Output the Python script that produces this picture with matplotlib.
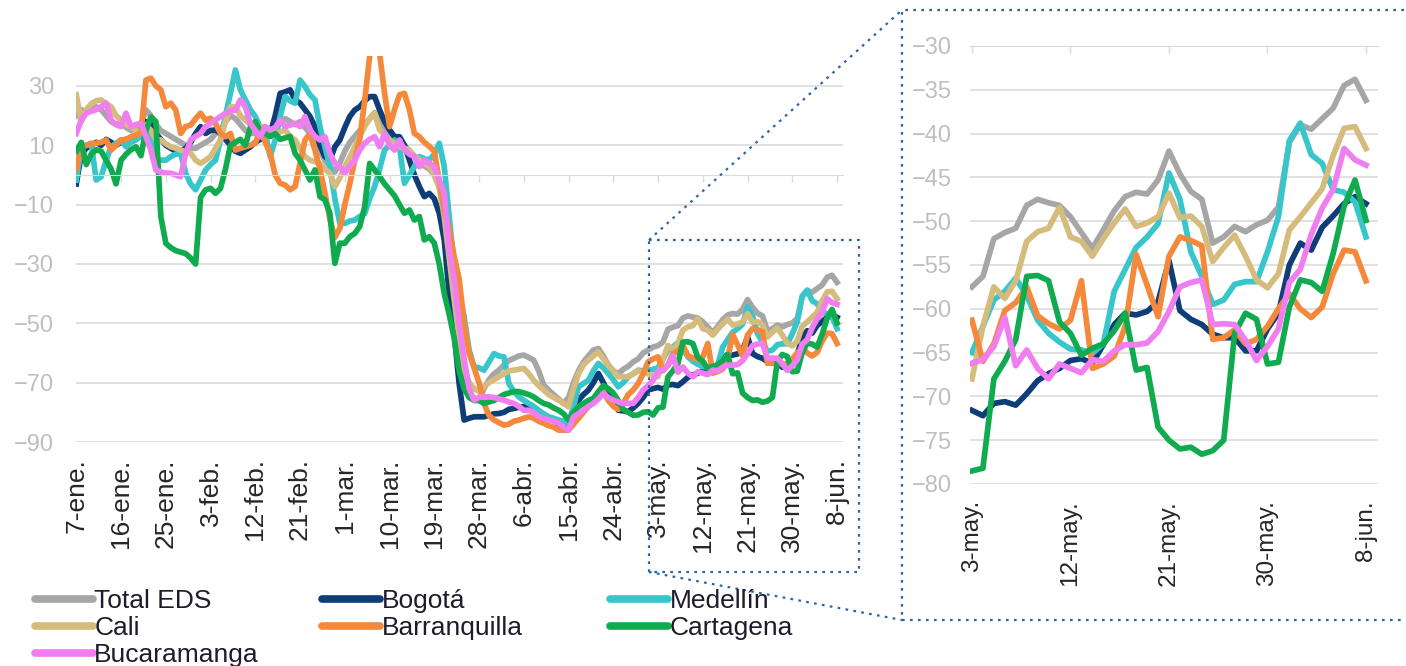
import numpy as np
import matplotlib.pyplot as plt
from matplotlib.lines import Line2D

plt.rcParams["font.family"] = ["Liberation Sans", "DejaVu Sans"]

# daily values, 7-ene. to 8-jun. (index 117 = 3-may.)
total_eds = [20, 22, 21, 22, 23, 22, 20, 18, 17, 18,
             16, 15, 16, 17, 22, 20, 17, 15, 14, 13,
             12, 11, 10, 9, 9, 10, 11, 12, 14, 15,
             18, 20, 19, 17, 15, 14, 14, 15, 14, 13,
             16, 18, 19, 18, 17, 18, 16, 14, 12, 8,
             5, 3, 1, 4, 8, 11, 13, 15, 17, 19,
             21, 18, 16, 13, 12, 11, 10, 8, 6, 4,
             3, 2, 0, -4, -14, -30, -45, -58, -68, -74,
             -75, -76, -72, -69, -67, -65.8, -64, -62.5, -61.8, -61,
             -60.7, -61.5, -62.4, -66, -70.8, -72.5, -74, -75.5, -77, -75,
             -70, -66, -63, -61, -59, -58.5, -61, -64, -66, -67,
             -65.5, -64.5, -63, -62, -60, -59, -58,
             -57.5, -56.3, -52, -51.3, -50.8, -48.2, -47.5, -47.9, -48.2, -49.5,
             -51.3, -53.1, -51, -48.8, -47.2, -46.7, -46.9, -45.3, -42, -44.6,
             -46.6, -47.5, -52.5, -51.8, -50.6, -51.2, -50.4, -49.9, -48.4, -41,
             -39, -39.5, -38.3, -37.1, -34.5, -33.8, -36.2]

bogota = [-3, 7, 9, 10, 11, 10, 12, 11, 10, 11,
          12, 12, 13, 14, 18, 17, 14, 12, 10, 9,
          8, 8, 9, 11, 14, 16.3, 14, 15, 15.2, 14,
          12, 10, 8, 7.3, 8.4, 9.5, 11, 12, 14, 14,
          20, 27.5, 28, 28.7, 25.3, 24.2, 22, 19.7, 16.3, 10,
          6.2, 5, 9.5, 11.8, 16, 19.7, 21.9, 23, 25, 26.4,
          26.4, 21.9, 18, 15.2, 12.9, 12.9, 10, 5, 0, -3.9,
          -7.3, -6.2, -8, -12.9, -21.9, -40, -53.4, -70.3, -82.6, -82,
          -81.5, -81.5, -81.5, -81, -80.5, -80.4, -80, -79, -78.7, -78.3,
          -78.1, -78.5, -79.5, -80.4, -81.5, -82, -82.6, -84, -86, -84,
          -80, -75.9, -74, -72.5, -70, -66.9, -70, -73.6, -76, -79.3,
          -79.5, -79.8, -78.5, -77, -75, -72.5, -72,
          -71.6, -72.2, -70.8, -70.6, -71, -69.7, -68.2, -67.4, -66.8, -65.9,
          -65.7, -66.2, -64.1, -61.8, -60.5, -60.7, -60.3, -59.2, -54.5, -60.2,
          -61.2, -61.8, -62.9, -63.3, -63.3, -64.8, -64.8, -62.3, -60.5, -55,
          -52.5, -53.3, -50.7, -49.4, -48, -47.2, -48]

medellin = [-1.7, 9.5, 10, 10.7, -1.7, -0.6, 5, 9.5, 10.7, 11.8,
            9.5, 11, 11.8, 13, 16.3, 11.8, 5, 5, 5, 6.2,
            7, 7.3, 0.6, -3, -5, -1.7, 1.7, 3.5, 5, 11.8,
            20, 27.5, 35.4, 28.7, 25.3, 22, 19.7, 16, 14, 6.2,
            11.8, 19.7, 26.4, 25, 24.2, 32, 29.8, 27, 25.3, 16.3,
            9.5, 2.8, -8, -16.3, -16.3, -15.5, -15.2, -14, -13, -8,
            -3.9, 2, 8.4, 10, 11.8, 9.5, -2.8, 0, 2.8, 6.2,
            5.5, 5, 7, 10.7, 2.8, -14, -30.9, -40, -47.8, -59,
            -64.6, -65, -65.8, -63, -60.2, -61, -61.3, -70.3, -73, -74.8,
            -76, -77, -78, -79.3, -80.5, -81.5, -82, -82.6, -83, -83.7,
            -78, -71.4, -70.3, -69.2, -66, -63.5, -65, -66.9, -69, -71.4,
            -70, -68, -67, -65.8, -66, -65.8, -65.5,
            -65, -62, -59, -58, -56.5, -58.5, -61.3, -62.8, -63.8, -64.6,
            -64.7, -65.1, -64, -58, -55.5, -53, -51.8, -50.3, -44.5, -47.5,
            -53.5, -56.3, -59.5, -59, -57.2, -56.9, -56.9, -53.5, -49.5, -40.8,
            -38.8, -42.4, -43.4, -46.4, -46.7, -47.8, -51.8]

cali = [27, 18, 22, 24, 25, 25.3, 24, 23, 20, 18.5,
        17, 16.3, 15, 14, 17, 15, 12, 11.8, 10.5, 9.5,
        9, 8.4, 7.8, 7.3, 5, 3.9, 5, 6.2, 9, 11.8,
        18, 23, 23, 20, 18.5, 17, 16.3, 16.3, 16.3, 15,
        14, 14.5, 15.2, 13, 11.8, 9, 6.2, 5, 4.5, 3.9,
        2, 0.6, -3.9, -1, 2.8, 6, 9.5, 13, 16.3, 19,
        20.8, 15.2, 13.5, 11.8, 10.5, 9.5, 9, 8.4, 6.5, 5,
        4, 2.8, 0, -4, -14, -28, -42, -55, -65, -70,
        -72, -73, -71.4, -70, -69, -68, -67, -66, -65.8, -65.5,
        -65.2, -67, -69.2, -71, -72.5, -74, -75, -75.9, -77, -78.1,
        -72, -67, -64, -62.4, -61, -59.6, -62, -64.1, -66, -68,
        -68, -68, -67, -66, -66.5, -67, -67.5,
        -68, -62, -57.5, -58.8, -56.8, -52.3, -51.2, -50.8, -48.4, -51.8,
        -52.3, -54, -52, -50.2, -48.6, -50.6, -50.2, -49.5, -46.8, -49.6,
        -49.4, -50.6, -54.6, -53, -51.6, -54, -56.7, -57.6, -56, -51,
        -49.5, -47.9, -46.3, -42.5, -39.4, -39.2, -41.7]

barranquilla = [2, 9.5, 10, 10.5, 10.7, 11, 11.8, 8.4, 10, 11.8,
                12, 12.9, 13.5, 14, 32, 32.6, 30, 28.7, 23, 24.2,
                21.9, 14, 16.3, 16.8, 19, 20.8, 18.5, 19.1, 17.4, 14,
                12.9, 14, 8.4, 9, 9.5, 10, 10.7, 15.2, 11, 7.3,
                0, -2.8, -3.4, -5, -3.9, 3.9, 11.8, 14, 8.4, 2,
                -6, -15, -21, -18, -10, -3, 5, 12, 25, 40,
                46, 41, 27.5, 16.3, 22, 27, 27.5, 22, 14, 12.9,
                11, 9.6, 8, -2, -12, -18, -27.5, -35, -50, -60,
                -65, -70, -77, -81, -82.6, -83.5, -84.3, -84, -83, -82.6,
                -82, -81.5, -82, -83, -83.7, -84.5, -85, -86, -86, -86,
                -84, -82, -80, -78, -76, -75, -73, -76, -78, -79,
                -77, -74, -72.5, -70.3, -67, -63, -62,
                -61.3, -66, -64, -60.2, -59.3, -57.5, -60.8, -61.7, -62.3, -61.3,
                -56.8, -66.8, -66.3, -65.4, -62, -53.8, -57.3, -60.9, -54, -51.8,
                -52.2, -52.8, -63.5, -63.3, -62.4, -64, -63.5, -62, -60, -58.3,
                -60, -61, -59.8, -56, -53.3, -53.5, -56.8]

cartagena = [8, 11, 3.5, 7, 8.5, 8, 5, 2, -3, 5,
             7, 8.5, 9.5, 6.5, 15, 19.5, 18, -14, -23, -24.5,
             -25.5, -26, -26.5, -28, -30, -7.5, -5, -4.5, -6.2, -4.5,
             2, 10, 11, 12, 10, 16, 18, 15, 14, 13,
             14, 12, 12.5, 13, 7.3, 5, 1.7, -1.7, 1.7, -7.3,
             -8.4, -12.9, -29.8, -23, -23, -20.8, -19.7, -17.4, -10.7, 3.9,
             1.7, -0.5, -3, -5, -7, -10, -12.9, -11.8, -15.2, -14,
             -21.9, -20.8, -23, -30, -40, -47, -55, -66, -72, -75,
             -76, -76, -77, -76.5, -76, -75, -74, -73.5, -73, -73,
             -73.5, -74, -74.8, -76, -77, -77.5, -78.5, -79.3, -80.5, -82.6,
             -80, -78.1, -77, -76, -75.3, -73, -71, -72, -73.5, -76,
             -79, -80, -81, -80.9, -80, -79.8, -80.9,
             -78.5, -78.2, -68, -66, -63.5, -56.3, -56.2, -56.8, -61.5, -62.8,
             -65.3, -64.5, -64, -62.5, -60.5, -67, -66.7, -73.5, -75, -76,
             -75.8, -76.6, -76.2, -75, -62.8, -60.5, -61.2, -66.3, -66.1, -59.8,
             -56.7, -57, -58, -53.7, -48.3, -45.3, -49.9]

bucaramanga = [14, 18.5, 20.8, 21.5, 22, 23, 24.2, 18.5, 17, 16.3,
               20.8, 16.3, 17, 17.4, 12.9, 8.4, 1.7, 1, 0.6, 0.6,
               0, -0.6, 7.3, 11.8, 13, 14, 16.3, 17.4, 18.5, 19.7,
               20.8, 21.5, 21.9, 25.3, 23, 17.4, 15, 12.9, 16.3, 15.2,
               16, 18.5, 16.3, 16.8, 17.4, 16.3, 19.7, 15.2, 13, 11.8,
               12.9, 7.3, 4, 2.8, 0.6, 3, 5, 8.4, 10.7, 12,
               12.9, 9.5, 14, 10, 8.4, 11.8, 8.4, 7, 6.2, 2.8,
               5, 4, 2.8, -1.7, -6.2, -25.3, -35, -50, -62, -72,
               -75.9, -75, -74.8, -74.8, -75, -75.5, -75.9, -76.5, -77, -78,
               -79.3, -79.3, -80, -81.5, -82, -82.6, -83, -83.7, -85, -86,
               -81.5, -80.5, -79.3, -78, -77, -75.5, -73.6, -75, -75.9, -76.5,
               -77, -77, -77, -75, -72.5, -71, -69.2,
               -66.2, -65.8, -64.3, -61, -66.5, -64.7, -66.8, -68, -66.3, -66.8,
               -67.3, -65.8, -66, -64.8, -64.1, -64.1, -63.9, -62.6, -60.3, -57.5,
               -57, -56.7, -61.8, -61.7, -61.8, -63.6, -65.9, -64.3, -62.3, -57,
               -55.5, -51.5, -48.5, -46.4, -41.7, -43, -43.6]

series_names = ["Total EDS", "Bogotá", "Medellín", "Cali",
                "Barranquilla", "Cartagena", "Bucaramanga"]
series_values = [total_eds, bogota, medellin, cali,
                 barranquilla, cartagena, bucaramanga]
series_colors = ["#a6a6a6", "#0e3d78", "#38c6cb", "#d5bb7c",
                 "#f4893b", "#10ab4f", "#f07ef0"]

left_tick_labels = ["7-ene.", "16-ene.", "25-ene.", "3-feb.", "12-feb.", "21-feb.",
                    "1-mar.", "10-mar.", "19-mar.", "28-mar.", "6-abr.", "15-abr.",
                    "24-abr.", "3-may.", "12-may.", "21-may.", "30-may.", "8-jun."]
right_tick_labels = ["3-may.", "12-may.", "21-may.", "30-may.", "8-jun."]
zoom_start = 117

W, H = 1406, 666
fig = plt.figure(figsize=(W / 100, H / 100), dpi=100)


def px_axes(left, top, right, bottom):
    return fig.add_axes([left / W, 1 - bottom / H, (right - left) / W, (bottom - top) / H])


def fig_xy(x, y):
    return x / W, 1 - y / H


grid_color = "#d9d9d9"
days = np.arange(len(total_eds))

ax = px_axes(76.3, 56.3, 843, 442)
ax_zoom = px_axes(970, 46, 1378, 484)

for vals, color in zip(series_values, series_colors):
    ax.plot(days, vals, color=color, lw=4.1, solid_joinstyle="round")
    ax_zoom.plot(days[zoom_start:], vals[zoom_start:], color=color, lw=4.1,
                 solid_joinstyle="round")

# main panel
ax.set_xlim(0, 154.2)
ax.set_ylim(-90, 40)
ax.set_yticks(np.arange(-90, 31, 20))
ax.set_xticks(np.arange(0, len(total_eds), 9))
ax.set_xticklabels(left_tick_labels)
ax.yaxis.grid(True, color=grid_color, lw=1.1)
ax.set_axisbelow(True)
for s in ["left", "right", "top"]:
    ax.spines[s].set_visible(False)
ax.spines["bottom"].set_position(("data", 0))
ax.spines["bottom"].set_color(grid_color)
ax.tick_params(axis="x", direction="out", length=5, width=1, color=grid_color,
               pad=199, labelsize=19, labelcolor="#262626", labelrotation=90)
ax.tick_params(axis="y", length=0, pad=16, labelsize=17, labelcolor="#bfbfbf")

# zoom panel
ax_zoom.set_xlim(zoom_start - 0.18, zoom_start + 37.1)
ax_zoom.set_ylim(-80, -30)
ax_zoom.set_yticks(np.arange(-80, -29, 5))
ax_zoom.set_xticks(np.arange(zoom_start, len(total_eds), 9))
ax_zoom.set_xticklabels(right_tick_labels)
ax_zoom.yaxis.grid(True, color=grid_color, lw=1.1)
ax_zoom.set_axisbelow(True)
for s in ["left", "right", "top"]:
    ax_zoom.spines[s].set_visible(False)
ax_zoom.spines["bottom"].set_position(("data", -30))
ax_zoom.spines["bottom"].set_color(grid_color)
ax_zoom.tick_params(axis="x", direction="out", length=5, width=1, color=grid_color,
                    pad=322, labelsize=17.5, labelcolor="#262626", labelrotation=90)
ax_zoom.tick_params(axis="y", length=0, pad=13, labelsize=17, labelcolor="#bfbfbf")

# legend, three columns filled row by row
columns = [[0, 3, 6], [1, 4], [2, 5]]
col_x = [35, 322, 610]
for idx, x0 in zip(columns, col_x):
    handles = [Line2D([], [], color=series_colors[i], lw=5.5, solid_capstyle="round")
               for i in idx]
    fig.legend(handles, [series_names[i] for i in idx], loc="upper left",
               bbox_to_anchor=fig_xy(x0, 589), frameon=False, fontsize=19,
               handlelength=2.2, handletextpad=0.05, borderpad=0,
               borderaxespad=0, labelspacing=0.12, labelcolor="#1c1c2c")

# dotted zoom callout
dot = dict(color="#2a64a8", lw=1.6, linestyle=(0, (1.2, 2.4)))
callout = [
    [(649, 240), (859, 240), (859, 572), (649, 572), (649, 240)],
    [(1404, 10), (902, 10), (902, 620), (1404, 620)],
    [(649, 240), (902, 10)],
    [(649, 572), (902, 620)],
]
for path in callout:
    xs, ys = zip(*[fig_xy(x, y) for x, y in path])
    fig.add_artist(Line2D(xs, ys, transform=fig.transFigure, **dot))

fig.savefig("out.png", dpi=100)
